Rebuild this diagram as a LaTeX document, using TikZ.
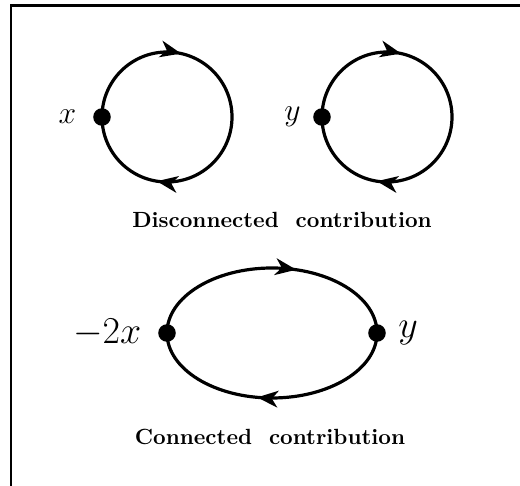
\documentclass[tikz,border=0pt]{standalone}
\usepackage{amsmath}
\usetikzlibrary{positioning,arrows.meta,decorations.markings}

\begin{document}
\begin{tikzpicture}[x=0.455pt, y=0.455pt,
  vertex/.style={circle, fill, inner sep=0pt, minimum size=8pt},
  propagator/.style={line width=1.45pt, postaction={decorate},
    decoration={markings, mark=at position #1 with
      {\arrow{Stealth[length=9.5pt, width=7.6pt, inset=2.8pt]}}}},
  twoarrows/.style 2 args={line width=1.45pt, postaction={decorate},
    decoration={markings,
      mark=at position #1 with {\arrow{Stealth[length=9.5pt, width=7.6pt, inset=2.8pt]}},
      mark=at position #2 with {\arrow{Stealth[length=9.5pt, width=7.6pt, inset=2.8pt]}}}}]
  \useasboundingbox (0,0) rectangle (520,-486);
  % frame
  \draw[line width=1pt] (11,-486) -- (11,-5.5) -- (520,-5.5);
  % disconnected part
  \node[vertex] (x1) at (102,-117) {};
  \node[vertex] (y1) at (322,-117) {};
  \node[left=4pt of x1] (lx1) {\Large $x$};
  \node[left=2pt of y1] (ly1) {\Large $y$};
  \draw[twoarrows={0.285}{0.775}] (x1.center) arc[start angle=180, end angle=-180, radius=65];
  \draw[twoarrows={0.285}{0.775}] (y1.center) arc[start angle=180, end angle=-180, radius=65];
  \node (dis) at (282,-220) {\textbf{Disconnected\ \ contribution}};
  % connected part
  \node[vertex] (x2) at (167,-333) {};
  \node[vertex] (y2) at (377,-333) {};
  \node[left=4pt of x2] (lx2) {\LARGE $-2x$};
  \node[right=2pt of y2] (ly2) {\LARGE $y$};
  \draw[propagator=0.59] (x2.center) arc[start angle=180, end angle=0, x radius=105, y radius=65];
  \draw[propagator=0.555] (y2.center) arc[start angle=0, end angle=-180, x radius=105, y radius=65];
  \node (con) at (270,-437) {\textbf{Connected\ \ contribution}};
\end{tikzpicture}
\end{document}
